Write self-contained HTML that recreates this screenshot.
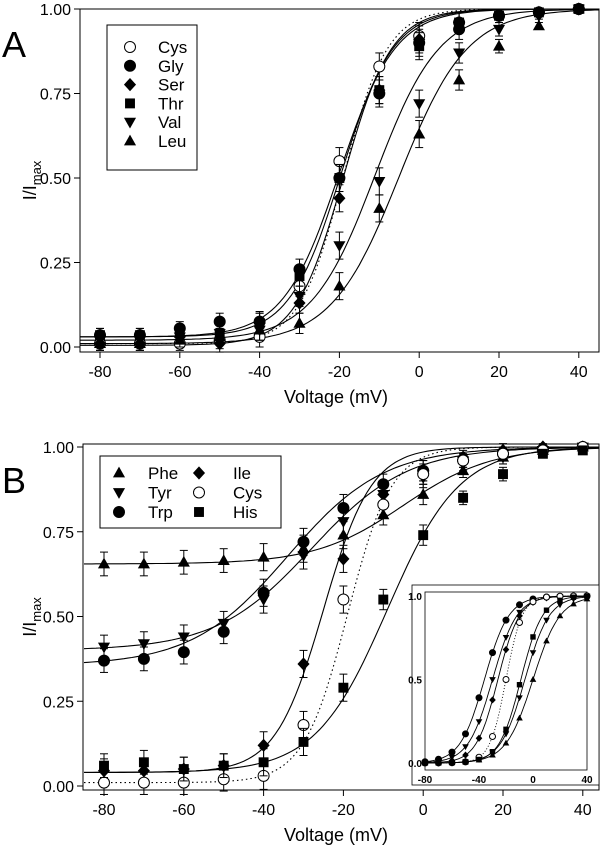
<!DOCTYPE html>
<html><head><meta charset="utf-8"><style>
body{margin:0;background:#fff;}
svg{display:block;font-family:"Liberation Sans",Arial,sans-serif;}
</style></head><body>
<svg id="fig" width="602" height="852" viewBox="0 0 602 852" xmlns="http://www.w3.org/2000/svg"></svg>
<script>
// ---- data ----
const voltages=[-80,-70,-60,-50,-40,-30,-20,-10,0,10,20,30,40];
const xTicks=[-80,-60,-40,-20,0,20,40];
const yTicks=[0,0.25,0.5,0.75,1.0];
const yTickLabels=["0.00","0.25","0.50","0.75","1.00"];
// Panel A
const seriesA=["Cys","Gly","Ser","Thr","Val","Leu"];
const markersA=["openCircle","circle","diamond","square","triDown","triUp"];
const cysVals=[.01,.01,.01,.02,.03,.18,.55,.83,.92,.96,.98,.99,1.0];
const glyVals=[.035,.035,.055,.075,.075,.23,.50,.75,.90,.94,.98,.99,1.0];
const serVals=[.01,.01,.03,.01,.07,.13,.44,.76,.91,.96,.98,.99,1.0];
const thrVals=[.035,.035,.04,.04,.07,.21,.50,.76,.89,.96,.98,.99,1.0];
const valVals=[.02,.02,.03,.04,.05,.15,.30,.49,.72,.87,.94,.98,1.0];
const leuVals=[.01,.01,.02,.03,.05,.07,.18,.41,.63,.79,.89,.95,1.0];
const valuesA=[cysVals,glyVals,serVals,thrVals,valVals,leuVals];
const errA=[.02,.02,.02,.025,.03,.03,.04,.04,.04,.03,.02,.01,0];
const fitBaseA=[.01,.03,.005,.03,.02,.01];
const fitHalfA=[-19,-20,-19,-19.5,-11,-5];
const fitSlopeA=[5.5,7,6,6.5,8,8.5];
// Panel B
const seriesB=["Phe","Tyr","Trp","Ile","Cys","His"];
const markersB=["triUp","triDown","circle","diamond","openCircle","square"];
const pheVals=[.655,.655,.66,.665,.675,.70,.74,.80,.86,.93,.97,.99,1.0];
const tyrVals=[.41,.42,.44,.48,.55,.68,.78,.86,.91,.95,.97,.99,1.0];
const trpVals=[.37,.375,.395,.455,.57,.72,.82,.89,.93,.96,.98,.99,1.0];
const ileVals=[.045,.045,.05,.06,.12,.36,.67,.86,.93,.97,.99,1.0,1.0];
const cysBVals=[.01,.01,.01,.02,.03,.18,.55,.83,.92,.96,.98,.99,1.0];
const hisVals=[.06,.07,.05,.06,.07,.13,.29,.55,.74,.85,.92,.98,.99];
const valuesB=[pheVals,tyrVals,trpVals,ileVals,cysBVals,hisVals];
const errB=[.035,.035,.035,.035,.04,.04,.04,.03,.03,.02,.02,.01,0];
const fitBaseB=[.655,.40,.355,.04,.01,.04];
const fitHalfB=[-5,-28,-34,-25,-19,-9];
const fitSlopeB=[11,12,12,6,5.5,9];
// Inset
const insetHalf=[-36,-30,-26,-20,-9,-6,0];
const insetSlope=[9,9,8,6,8,9,10];
const insetMarkers=["circle","triDown","diamond","openCircle","square","triDown","triUp"];
const insetTicksX=[-80,-40,0,40];

const NS="http://www.w3.org/2000/svg";
const svg=document.getElementById('fig');
function el(tag,attrs,parent){const e=document.createElementNS(NS,tag);for(const k in attrs)e.setAttribute(k,attrs[k]);(parent||svg).appendChild(e);return e;}
function boltz(v,b,h,k){return b+(1-b)/(1+Math.exp((h-v)/k));}
function marker(g,type,x,y,r){
  let m;
  if(type==="circle"||type==="openCircle") m=el('circle',{cx:x,cy:y,r:r,fill:type==="circle"?"#000":"#fff",stroke:"#000","stroke-width":1},g);
  else if(type==="square") m=el('rect',{x:x-r*0.9,y:y-r*0.9,width:r*1.8,height:r*1.8,fill:"#000"},g);
  else if(type==="diamond") m=el('polygon',{points:`${x},${y-r*1.2} ${x+r*1.1},${y} ${x},${y+r*1.2} ${x-r*1.1},${y}`,fill:"#000"},g);
  else if(type==="triUp") m=el('polygon',{points:`${x},${y-r*1.15} ${x+r*1.1},${y+r*0.8} ${x-r*1.1},${y+r*0.8}`,fill:"#000"},g);
  else m=el('polygon',{points:`${x},${y+r*1.15} ${x+r*1.1},${y-r*0.8} ${x-r*1.1},${y-r*0.8}`,fill:"#000"},g);
  
  
  return m;
}
function panel(opt){
  const g=el('g',{});
  
  
  const X=v=>opt.x0+(v-(-80))*opt.sx;
  const Y=f=>opt.y0-f*opt.sy;
  const ax=el('path',{d:`M${opt.left},${opt.top} V${opt.bottom} H${opt.right} V${opt.top} Z`,fill:"none",stroke:"#000","stroke-width":1},g);
  
  
  xTicks.forEach(t=>{
    el('line',{x1:X(t),x2:X(t),y1:opt.bottom,y2:opt.bottom+6,stroke:"#000"},g);
    const tx=el('text',{x:X(t),y:opt.bottom+25,"text-anchor":"middle","font-size":16},g);tx.textContent=t;
    
    
  });
  yTicks.forEach((t,i)=>{
    el('line',{x1:opt.left-6,x2:opt.left,y1:Y(t),y2:Y(t),stroke:"#000"},g);
    const tx=el('text',{x:opt.left-9,y:Y(t)+6,"text-anchor":"end","font-size":16},g);tx.textContent=yTickLabels[i];
    
    
  });
  const xl=el('text',{x:336,y:opt.bottom+51,"text-anchor":"middle","font-size":18},g);xl.textContent="Voltage (mV)";
  
  
  const yl=el('text',{transform:`translate(36,${(opt.top+opt.bottom)/2}) rotate(-90)`,"text-anchor":"middle","font-size":18},g);
  yl.innerHTML='I/I<tspan font-size="13" dy="5">max</tspan>';
  
  
  const pl=el('text',{x:2,y:opt.letterY,"font-size":36},g);pl.textContent=opt.letter;
  
  
  opt.series.forEach((s,i)=>{
    let d="";
    for(let v=-85;v<=45;v+=1){const xx=X(v),yy=Y(boltz(v,opt.base[i],opt.half[i],opt.slope[i]));if(xx<opt.left||xx>opt.right)continue;d+=(d?"L":"M")+xx.toFixed(1)+","+yy.toFixed(1);}
    const p=el('path',{d:d,fill:"none",stroke:"#000","stroke-width":1.1,"stroke-dasharray":s==="Cys"?"1.5,3":"none"},g);
    
    
  });
  opt.series.forEach((s,i)=>{
    const sg=el('g',{},g);
    
    
    opt.values[i].forEach((f,j)=>{
      const xx=X(voltages[j]),yy=Y(f),e=opt.err[j]*opt.sy;
      if(e>0){el('line',{x1:xx,x2:xx,y1:yy-e,y2:yy+e,stroke:"#000","stroke-width":1},sg);
        el('line',{x1:xx-4,x2:xx+4,y1:yy-e,y2:yy-e,stroke:"#000"},sg);el('line',{x1:xx-4,x2:xx+4,y1:yy+e,y2:yy+e,stroke:"#000"},sg);}
      marker(sg,opt.markers[i],xx,yy,5.5);
    });
  });
  return {g,X,Y};
}
const A=panel({name:"panel-a",letter:"A",letterY:57,x0:100,sx:3.99,y0:347,sy:338,left:80,right:599,top:9,bottom:352,
  series:seriesA,markers:markersA,values:valuesA,err:errA,base:fitBaseA,half:fitHalfA,slope:fitSlopeA});
{const lg=el('g',{});
 el('rect',{x:107,y:25,width:90,height:145,fill:"#fff",stroke:"#000"},lg);
 seriesA.forEach((s,i)=>{const y=47+i*18.8;marker(lg,markersA[i],130,y,5.5);
  const t=el('text',{x:158,y:y+6,"font-size":17},lg);t.textContent=s;
  
  });}
const B=panel({name:"panel-b",letter:"B",letterY:493,x0:104,sx:3.99,y0:786,sy:339,left:83,right:599,top:444,bottom:790,
  series:seriesB,markers:markersB,values:valuesB,err:errB,base:fitBaseB,half:fitHalfB,slope:fitSlopeB});
{const lg=el('g',{});
 el('rect',{x:100,y:456,width:181,height:72,fill:"#fff",stroke:"#000"},lg);
 seriesB.forEach((s,i)=>{const col=Math.floor(i/3),row=i%3,y=473+row*19.5;
  marker(lg,markersB[i],col?199:119,y,5.5);
  const t=el('text',{x:col?233:148,y:y+6,"font-size":17},lg);t.textContent=s;
  
  });}
{const ig=el('g',{});
 el('rect',{x:412,y:585,width:187,height:200,fill:"#fff",stroke:"#000","stroke-width":0.8},ig);
 const L=425,R=587,T=592,Bt=770;
 const IX=v=>L+(v+80)*(R-L)/120, IY=f=>763-f*167;
 el('rect',{x:L,y:T,width:R-L,height:Bt-T,fill:"none",stroke:"#000","stroke-width":0.8},ig);
 insetTicksX.forEach(t=>{const tx=el('text',{x:IX(t),y:Bt+13,"text-anchor":"middle","font-size":10,"font-weight":"bold"},ig);tx.textContent=t;
  
  });
 [[0,"0.0"],[0.5,"0.5"],[1,"1.0"]].forEach(p=>{const tx=el('text',{x:L-3,y:IY(p[0])+4,"text-anchor":"end","font-size":10,"font-weight":"bold"},ig);tx.textContent=p[1];
  
  });
 insetHalf.forEach((h,i)=>{let d="";for(let v=-80;v<=40;v+=1){d+=(d?"L":"M")+IX(v).toFixed(1)+","+IY(boltz(v,0,h,insetSlope[i])).toFixed(1);}
  const p=el('path',{d:d,fill:"none",stroke:"#000","stroke-width":0.9,"stroke-dasharray":insetMarkers[i]==="openCircle"?"1,2":"none"},ig);
  
  
  voltages.forEach(v=>{const f=boltz(v,0,h,insetSlope[i]);marker(ig,insetMarkers[i],IX(v),IY(f),3);});});
}
</script>
</body></html>
